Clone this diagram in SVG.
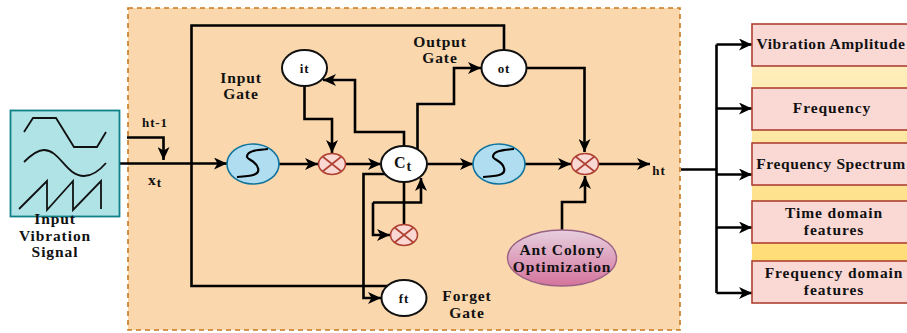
<svg xmlns="http://www.w3.org/2000/svg" width="907" height="333" viewBox="0 0 907 333">
<style>
text{font-family:"Liberation Serif","Times New Roman",serif;font-weight:bold;font-size:15.500px;fill:#111;text-anchor:middle;letter-spacing:.9px}
.l{fill:none;stroke:#000;stroke-width:2.6;stroke-linejoin:miter}
.a{marker-end:url(#ah)}
.w{fill:#fff;stroke:#111;stroke-width:2}
.s{fill:#b1ddf0;stroke:#10739e;stroke-width:1.6}
.x{fill:#f9d7d3;stroke:#ae4132;stroke-width:1.6}
.xl{fill:none;stroke:#ae4132;stroke-width:1.6}
.c{fill:none;stroke:#000;stroke-width:2.2}
.b{fill:#fad9d5;stroke:#ae4132;stroke-width:1.6}
.sig{fill:none;stroke:#111;stroke-width:1.8}
.sm{font-size:13px}
.fit{letter-spacing:.6px}
</style>
<defs>
<marker id="ah" markerWidth="14" markerHeight="12" refX="13" refY="6" orient="auto" markerUnits="userSpaceOnUse"><path d="M0 0L13 6L0 12L3.500 6Z" fill="#000"/></marker>
<linearGradient id="aco" x1="0" y1="0" x2="0" y2="1"><stop offset="0" stop-color="#e6d0de"/><stop offset="1" stop-color="#d5739d"/></linearGradient>
<linearGradient id="band" x1="0" y1="0" x2="0" y2="1"><stop offset="0" stop-color="#fff2cc"/><stop offset="1" stop-color="#ffd966"/></linearGradient>
</defs>
<g id="panel"><rect x="128" y="8" width="552" height="322" fill="#fad7ac" stroke="#c9781f" stroke-width="1.6" stroke-dasharray="5 4"/></g>
<g id="bands"><rect x="752" y="24" width="170" height="279" fill="url(#band)"/></g>
<g id="connectors">
<path class="l a" d="M119 163.500H227"/>
<path class="l a" d="M127 137.500H163.500V160"/>
<path class="l" d="M191.500 163V25.500H504V50"/>
<path class="l" d="M191.500 163V286H390"/>
<path class="l a" d="M279 164H318"/>
<path class="l a" d="M346 164H381"/>
<path class="l a" d="M427 164H473"/>
<path class="l a" d="M525 164H571"/>
<path class="l a" d="M599 164H650"/>
<path class="l a" d="M304.500 86V119H332V153"/>
<path class="l a" d="M404 146V132H355V80H323"/>
<path class="l a" d="M417.500 150V104H454V68H481"/>
<path class="l a" d="M527 68H584.500V152"/>
<path class="l" d="M404 182V224"/>
<path class="l a" d="M373 202.500V235H390"/>
<path class="l a" d="M373 202.500H421V178"/>
<path class="l a" d="M386 174H363.500V298H381"/>
<path class="l a" d="M562 230V202H585V176"/>
<path class="l" d="M681 169.500H716.500"/>
<path class="l" d="M716.500 44.500V293"/>
<path class="l a" d="M716.500 44.500H752"/>
<path class="l a" d="M716.500 108.500H752"/>
<path class="l a" d="M716.500 174.500H752"/>
<path class="l a" d="M716.500 227.500H752"/>
<path class="l a" d="M716.500 293H752"/>
</g>
<g id="input-signal">
<rect x="10.500" y="110.500" width="109" height="106" fill="#b0e3e6" stroke="#0e8088" stroke-width="1.8"/>
<path class="sig" d="M24 132L33 118H56L74 147H97L106 132"/>
<path class="sig" d="M24 162C32 154 38 150 44 150C60 150 66 176 84 176C92 176 100 170 106 163"/>
<path class="sig" d="M19 209L47 181V210L73 181V210L101 181V209"/>
<text x="55" y="224">Input</text><text x="55" y="241">Vibration</text><text x="55" y="257">Signal</text>
</g>
<g id="s1"><ellipse class="s" cx="253" cy="164" rx="26" ry="20"/><path class="c" d="M237 177C252 176 260 175 258 168C256 160 246 160 247 156C248 151 256 150 268 149"/></g>
<g id="s2"><ellipse class="s" cx="499" cy="164" rx="26" ry="20"/><path class="c" d="M483 177C498 176 506 175 504 168C502 160 492 160 493 156C494 151 502 150 514 149"/></g>
<g id="mult1"><ellipse class="x" cx="332" cy="164" rx="13.500" ry="10.500"/><path class="xl" d="M322.500 156.500L341.500 171.500M341.500 156.500L322.500 171.500"/></g>
<g id="mult2"><ellipse class="x" cx="585" cy="164" rx="13.500" ry="10.500"/><path class="xl" d="M575.500 156.500L594.500 171.500M594.500 156.500L575.500 171.500"/></g>
<g id="mult3"><ellipse class="x" cx="404" cy="235" rx="13.500" ry="10.500"/><path class="xl" d="M394.500 227.500L413.500 242.500M413.500 227.500L394.500 242.500"/></g>
<g id="it"><ellipse class="w" cx="304.500" cy="68" rx="22.500" ry="18"/><text class="sm" x="304.500" y="73">it</text></g>
<g id="ot"><ellipse class="w" cx="504" cy="68" rx="22.500" ry="18"/><text class="sm" x="504" y="73">ot</text></g>
<g id="ct"><ellipse class="w" cx="404" cy="164" rx="23" ry="18"/><text x="403" y="168" style="font-size:16px">C<tspan dy="3" style="font-size:14px">t</tspan></text></g>
<g id="ft"><ellipse class="w" cx="404" cy="298" rx="22.500" ry="18"/><text class="sm" x="404" y="303">ft</text></g>
<g id="aco-node"><ellipse cx="562" cy="258" rx="54.500" ry="28" fill="url(#aco)" stroke="#996185" stroke-width="1.4"/><text x="562" y="255">Ant Colony</text><text x="562" y="272">Optimization</text></g>
<g id="labels">
<text class="sm" x="155" y="127">ht-1</text>
<text x="155" y="185">x<tspan dy="2" class="sm">t</tspan></text>
<text class="sm" x="659" y="175">ht</text>
<text x="241" y="83">Input</text><text x="241" y="99">Gate</text>
<text x="440" y="47">Output</text><text x="440" y="63">Gate</text>
<text x="467" y="301">Forget</text><text x="467" y="318">Gate</text>
</g>
<g id="f1"><rect class="b" x="752" y="24" width="170" height="42"/><text class="fit" x="831" y="49">Vibration Amplitude</text></g>
<g id="f2"><rect class="b" x="752" y="88" width="170" height="42"/><text x="832" y="113">Frequency</text></g>
<g id="f3"><rect class="b" x="752" y="143" width="170" height="42"/><text class="fit" x="831" y="169">Frequency Spectrum</text></g>
<g id="f4"><rect class="b" x="752" y="201" width="170" height="42"/><text x="834" y="218">Time domain</text><text x="834" y="235">features</text></g>
<g id="f5"><rect class="b" x="752" y="261" width="170" height="42"/><text x="834" y="278">Frequency domain</text><text x="834" y="295">features</text></g>
</svg>
